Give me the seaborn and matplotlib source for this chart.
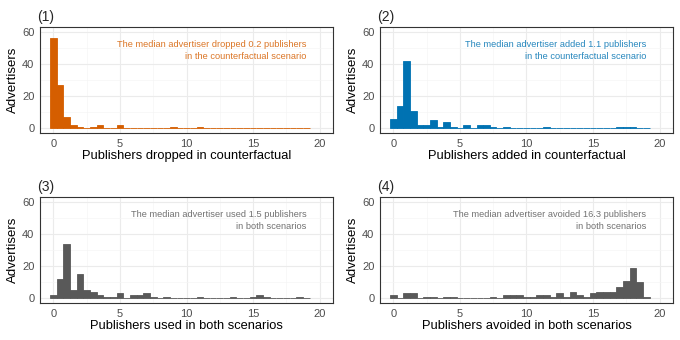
import numpy as np
import pandas as pd
import matplotlib
matplotlib.use("Agg")
import matplotlib.pyplot as plt
import seaborn as sns

sns.set_style("white")
plt.rcParams['font.family'] = ['Liberation Sans', 'DejaVu Sans']

# bin centres (publishers), one every 0.5
bin_centres = [i * 0.5 for i in range(39)]

# advertisers per bin
dropped = [56, 27, 7, 2, 1, 0, 1, 2, 0, 0, 2, 0, 0, 0, 0, 0, 0, 0, 1, 0,
           0, 0, 1, 0, 0, 0, 0, 0, 0, 0, 0, 0, 0, 0, 0, 0, 0, 0, 0]
added = [6, 14, 42, 11, 2, 2, 5, 1, 4, 1, 0, 2, 0, 2, 2, 1, 0, 1, 0, 0,
         0, 0, 0, 1, 0, 0, 0, 0, 0, 0, 0, 0, 0, 0, 1, 1, 1, 0, 0]
used_both = [2, 12, 34, 5, 15, 5, 4, 2, 1, 1, 3, 0, 2, 2, 3, 1, 0, 1, 0, 0,
             0, 0, 1, 0, 0, 0, 0, 1, 0, 0, 1, 2, 1, 0, 0, 0, 0, 1, 0]
avoided_both = [2, 0, 3, 3, 0, 1, 1, 0, 1, 1, 0, 0, 0, 0, 0, 1, 0, 2, 2, 2,
                1, 1, 2, 2, 1, 3, 1, 4, 2, 1, 3, 4, 4, 4, 7, 11, 19, 10, 1]

panel_tags = ["(1)", "(2)", "(3)", "(4)"]
x_titles = ["Publishers dropped in counterfactual",
            "Publishers added in counterfactual",
            "Publishers used in both scenarios",
            "Publishers avoided in both scenarios"]
notes = ["The median advertiser dropped 0.2 publishers\nin the counterfactual scenario",
         "The median advertiser added 1.1 publishers\nin the counterfactual scenario",
         "The median advertiser used 1.5 publishers\nin both scenarios",
         "The median advertiser avoided 16.3 publishers\nin both scenarios"]
colours = ["#D55E00", "#0072B2", "#595959", "#595959"]
series = [dropped, added, used_both, avoided_both]

fig, axes = plt.subplots(2, 2, figsize=(6.8, 3.4), dpi=100)
plt.subplots_adjust(left=0.0588, right=0.9897, top=0.9206, bottom=0.1088,
                    hspace=0.604, wspace=0.16)

for ax, counts, col, tag, xt, note in zip(axes.flat, series, colours,
                                          panel_tags, x_titles, notes):
    df = pd.DataFrame({"x": bin_centres, "n": counts})
    sns.histplot(data=df, x="x", weights="n", binwidth=0.5,
                 binrange=(-0.25, 19.25), color=col, alpha=1,
                 edgecolor=col, linewidth=0.6, ax=ax, zorder=3)
    ax.set_xlim(-1, 21)
    ax.set_ylim(-3, 63)
    ax.set_xticks([0, 5, 10, 15, 20])
    ax.set_yticks([0, 20, 40, 60])
    ax.set_xticks([2.5, 7.5, 12.5, 17.5], minor=True)
    ax.set_yticks([10, 30, 50], minor=True)
    ax.grid(True, which="major", color="#EBEBEB", linewidth=0.8, zorder=0)
    ax.grid(True, which="minor", color="#F5F5F5", linewidth=0.5, zorder=0)
    ax.set_axisbelow(True)
    for s in ax.spines.values():
        s.set_color("#333333")
        s.set_linewidth(0.8)
    ax.tick_params(axis="both", which="major", length=2.5, width=0.6,
                   color="#333333", labelsize=8, labelcolor="#4D4D4D", pad=1.5)
    ax.tick_params(axis="both", which="minor", length=0)
    ax.set_xlabel(xt, fontsize=9.3, color="black", labelpad=1)
    ax.set_ylabel("Advertisers", fontsize=9.5, color="black", labelpad=2)
    ax.set_title(tag, loc="left", fontsize=10, x=-0.01, pad=4)
    ax.text(19, 48.5, note, ha="right", va="center", fontsize=6.7,
            color=col, alpha=0.85, linespacing=1.45, zorder=4)

fig.savefig("out.png", dpi=100)
